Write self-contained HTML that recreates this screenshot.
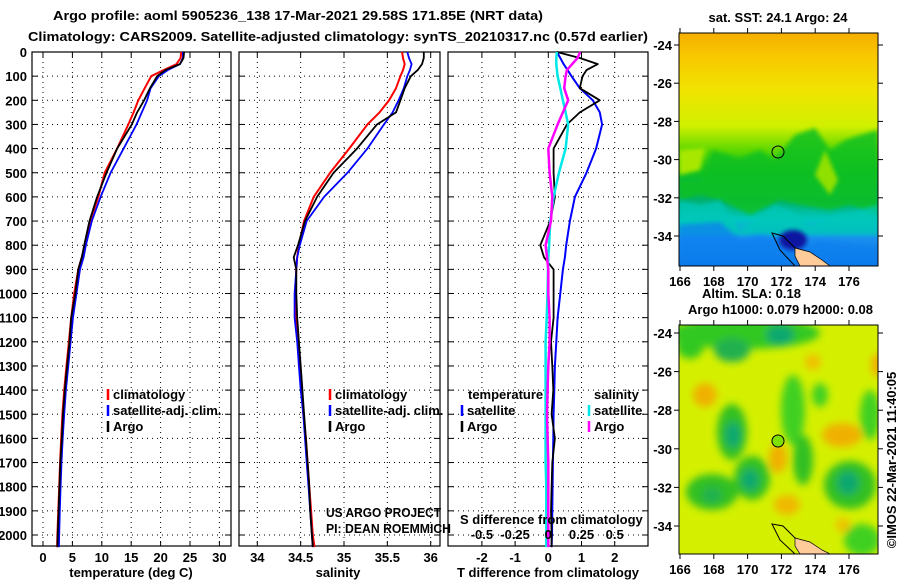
<!DOCTYPE html>
<html><head><meta charset="utf-8"><style>
html,body{margin:0;padding:0;background:#fff;}
svg{display:block;font-family:"Liberation Sans",sans-serif;}
.t{font-weight:bold;font-size:13px;fill:#000;}
</style></head><body>
<svg id="fig" width="900" height="580" viewBox="0 0 900 580">
<defs>
<filter id="blur" x="-50%" y="-50%" width="200%" height="200%"><feGaussianBlur stdDeviation="4"/></filter>
<filter id="blur2" x="-20%" y="-20%" width="140%" height="140%"><feGaussianBlur stdDeviation="2"/></filter>
<clipPath id="cm1"><rect x="679" y="33" width="199" height="233"/></clipPath>
<clipPath id="cm2"><rect x="679" y="325" width="199" height="229"/></clipPath>
<linearGradient id="sst" x1="0" y1="0" x2="0" y2="1">
<stop offset="0" stop-color="#f6ae00"/><stop offset="0.1" stop-color="#f8c800"/>
<stop offset="0.25" stop-color="#f0e400"/><stop offset="0.4" stop-color="#d0f000"/>
<stop offset="0.5" stop-color="#60d800"/><stop offset="0.6" stop-color="#10c020"/>
<stop offset="0.72" stop-color="#00b070"/><stop offset="0.8" stop-color="#00c8c0"/>
<stop offset="0.88" stop-color="#1a90f0"/><stop offset="1" stop-color="#0a70e0"/>
</linearGradient>
</defs>
<rect width="900" height="580" fill="#fff"/>
<text class="t" x="53" y="20" font-size="14" textLength="490" lengthAdjust="spacingAndGlyphs">Argo profile: aoml 5905236_138 17-Mar-2021 29.58S 171.85E (NRT data)</text>
<text class="t" x="28" y="41" font-size="14" textLength="620" lengthAdjust="spacingAndGlyphs">Climatology: CARS2009. Satellite-adjusted climatology: synTS_20210317.nc (0.57d earlier)</text>
<g id="panels"></g>

<!-- top map -->
<g>
<text class="t" x="778" y="22" text-anchor="middle">sat. SST: 24.1 Argo: 24</text>
<g clip-path="url(#cm1)">
<rect x="679" y="33" width="199" height="233" fill="url(#sst)"/>
<path d="M679,180 L700,182 L712,150 L740,158 L760,150 L775,160 L795,135 L815,128 L830,150 L845,140 L860,135 L878,130 L878,215 L850,205 L830,210 L800,205 L780,200 L750,215 L720,200 L700,195 L679,200Z" fill="#10c020" filter="url(#blur2)" opacity="0.85"/>
<path d="M679,175 L700,170 L705,148 L679,150Z" fill="#a8e800" filter="url(#blur2)"/>
<path d="M815,175 L825,150 L838,180 L830,195Z" fill="#90e000" filter="url(#blur2)"/>
<path d="M679,200 L700,205 L720,200 L740,230 L760,215 L775,205 L790,210 L810,225 L840,215 L878,205 L878,235 L679,235Z" fill="#00c8b8" filter="url(#blur2)" opacity="0.8"/>
<path d="M679,225 L720,222 L740,240 L760,235 L780,240 L800,250 L820,240 L878,248 L878,266 L679,266Z" fill="#1080f0" filter="url(#blur2)" opacity="0.75"/>
<ellipse cx="793" cy="240" rx="14" ry="10" fill="#0818a0" filter="url(#blur2)"/>
<path d="M772,233 L783,236 L795,248 L815,256 L826,266 L795,266 L780,250Z" fill="none" stroke="#000" stroke-width="1"/>
<path d="M795,248 L810,252 L822,260 L830,266 L800,266 L795,256Z" fill="#ffcc99" stroke="#000" stroke-width="0.7"/>
</g>
<rect x="679" y="33" width="199" height="233" fill="none" stroke="#000" stroke-width="1"/>
<circle cx="778" cy="152" r="6" fill="none" stroke="#000" stroke-width="1"/>
<g id="m1ticks"></g>
</g>

<!-- bottom map -->
<g>
<text class="t" x="702" y="298">Altim. SLA: 0.18</text>
<text class="t" x="688" y="314">Argo h1000: 0.079 h2000: 0.08</text>
<g clip-path="url(#cm2)">
<rect x="679" y="325" width="199" height="229" fill="#d4f000"/>
<g filter="url(#blur)">
<ellipse cx="745" cy="333" rx="75" ry="16" fill="#30c820"/>
<ellipse cx="690" cy="345" rx="14" ry="14" fill="#30c820"/>
<ellipse cx="732" cy="350" rx="18" ry="12" fill="#20b050"/>
<ellipse cx="780" cy="335" rx="14" ry="10" fill="#10a870"/>
<ellipse cx="732" cy="432" rx="15" ry="28" fill="#30c020"/>
<ellipse cx="733" cy="435" rx="8" ry="13" fill="#10a870"/>
<ellipse cx="752" cy="478" rx="18" ry="22" fill="#30c020"/>
<ellipse cx="750" cy="480" rx="9" ry="11" fill="#10a870"/>
<ellipse cx="712" cy="492" rx="26" ry="18" fill="#30c020"/>
<ellipse cx="712" cy="495" rx="10" ry="8" fill="#20b050"/>
<ellipse cx="793" cy="410" rx="12" ry="35" fill="#40d020"/>
<ellipse cx="803" cy="460" rx="10" ry="25" fill="#30c020"/>
<ellipse cx="850" cy="485" rx="26" ry="24" fill="#30c020"/>
<ellipse cx="848" cy="483" rx="11" ry="12" fill="#10a870"/>
<ellipse cx="870" cy="415" rx="10" ry="25" fill="#40d020"/>
<ellipse cx="862" cy="540" rx="18" ry="16" fill="#40d020"/>
<ellipse cx="820" cy="395" rx="8" ry="12" fill="#40d020"/>
<ellipse cx="705" cy="395" rx="12" ry="12" fill="#f0b000"/>
<ellipse cx="842" cy="435" rx="20" ry="12" fill="#f0b000"/>
<ellipse cx="778" cy="458" rx="9" ry="15" fill="#f0b000"/>
<ellipse cx="787" cy="505" rx="13" ry="10" fill="#f0b800"/>
<ellipse cx="813" cy="362" rx="8" ry="8" fill="#f0c000"/>
<ellipse cx="878" cy="365" rx="7" ry="12" fill="#f0b000"/>
<ellipse cx="843" cy="525" rx="7" ry="7" fill="#f0c000"/>
</g>
<path d="M772,524 L783,526 L795,538 L815,546 L826,554 L795,554 L780,540Z" fill="none" stroke="#000" stroke-width="1"/>
<path d="M795,538 L810,542 L822,550 L830,554 L800,554 L795,546Z" fill="#ffcc99" stroke="#000" stroke-width="0.7"/>
</g>
<rect x="679" y="325" width="199" height="229" fill="none" stroke="#000" stroke-width="1"/>
<circle cx="778" cy="441" r="6" fill="#80e000" stroke="#000" stroke-width="1"/>
<g id="m2ticks"></g>
</g>
<text class="t" transform="translate(896,460) rotate(-90)" text-anchor="middle" font-weight="normal">©IMOS 22-Mar-2021 11:40:05</text>
</svg>
<script>
// depth levels (dbar)
const depth = [0,25,50,75,100,150,200,250,300,400,500,600,700,800,850,900,1000,1100,1200,1300,1400,1500,1600,1700,1800,1900,2000,2050];
// temperature (deg C)
const tempClim = [23.5,23.4,22.7,20.5,18.4,17.3,16.2,15.4,14.5,12.6,10.5,9.4,8.0,7.2,6.6,6.0,5.3,4.8,4.4,4.0,3.6,3.3,3.1,2.9,2.75,2.6,2.45,2.4];
const tempSat = [23.8,23.8,23.3,21.2,19.7,18.3,17.7,16.8,15.9,13.7,11.5,9.8,8.3,7.3,6.9,6.3,5.7,5.1,4.7,4.3,3.9,3.6,3.35,3.15,3.0,2.85,2.75,2.7];
const tempArgo = [24.0,23.9,23.3,20.8,19.4,18.2,17.2,16.0,15.1,12.6,10.8,9.2,7.9,7.0,6.6,6.0,5.5,4.8,4.5,4.1,3.7,3.4,3.2,2.95,2.8,2.65,2.5,2.45];
// salinity
const salClim = [35.67,35.68,35.70,35.68,35.65,35.60,35.52,35.41,35.27,35.06,34.84,34.65,34.54,34.48,34.46,34.45,34.44,34.45,34.47,34.49,34.51,34.53,34.56,34.58,34.60,34.62,34.64,34.66];
const salSat = [35.73,35.75,35.78,35.76,35.73,35.69,35.63,35.56,35.46,35.27,35.04,34.77,34.57,34.49,34.46,34.45,34.43,34.43,34.46,34.48,34.50,34.53,34.55,34.57,34.59,34.61,34.63,34.64];
const salArgo = [35.92,35.92,35.90,35.85,35.77,35.70,35.65,35.60,35.38,35.15,34.88,34.69,34.55,34.47,34.42,34.45,34.45,34.46,34.48,34.50,34.52,34.54,34.56,34.58,34.60,34.61,34.63,34.64];
// differences from climatology
const tdiffSat = [0.26,0.36,0.46,0.58,0.70,0.95,1.34,1.55,1.62,1.44,1.15,0.80,0.65,0.54,0.5,0.44,0.36,0.28,0.24,0.2,0.18,0.16,0.15,0.14,0.13,0.12,0.11,0.1];
const tdiffArgo = [0.26,0.95,1.49,1.15,1.03,0.95,1.55,0.95,0.56,0.16,0.16,0.2,0.06,-0.24,-0.13,0.16,0.16,0.16,0.08,0.12,0.15,0.1,0.2,0.12,0.1,0.08,0.1,0.1];
const sdiffSat = [0.065,0.06,0.06,0.065,0.07,0.09,0.11,0.13,0.15,0.13,0.08,0.04,0.015,0.006,0.0,-0.002,-0.006,-0.012,-0.02,-0.02,-0.02,-0.02,-0.02,-0.02,-0.015,-0.015,-0.015,-0.015];
const sdiffArgo = [0.24,0.22,0.18,0.14,0.13,0.12,0.15,0.11,0.07,0.0,0.01,0.03,0.02,-0.02,-0.01,0.0,0.0,0.01,0.01,0.0,-0.005,-0.01,-0.005,0.0,0.0,0.0,0.0,0.0];
// tick labels
const depthTicks = [0,100,200,300,400,500,600,700,800,900,1000,1100,1200,1300,1400,1500,1600,1700,1800,1900,2000];
const tempTicks = [0,5,10,15,20,25,30];
const salTicks = [34,34.5,35,35.5,36];
const tdTicks = [-2,-1,0,1,2];
const sdTicks = [-0.5,-0.25,0,0.25,0.5];
const latTicks = [-24,-26,-28,-30,-32,-34];
const lonTicks = [166,168,170,172,174,176];

const NS='http://www.w3.org/2000/svg';
const P=document.getElementById('panels');
function mk(tag,attrs,parent){const e=document.createElementNS(NS,tag);for(const k in attrs)e.setAttribute(k,attrs[k]);(parent||P).appendChild(e);return e;}
const yD = d => 52 + d*0.2415;
const TOP=52, BOT=546;
const xT = v => 43 + v*5.88;
const xS = v => 257.3 + (v-34)*86.7;
const xTD = v => 548.3 + v*33.2;
const xSD = v => 548.3 + v*132.8;

function panel(name,x0,x1,xf,ticks,fmt){
  const g=mk('g',{});
  
  
  depthTicks.forEach(d=>{const y=yD(d);
    mk('line',{x1:x0,x2:x1,y1:y,y2:y,stroke:'#000','stroke-width':1,'stroke-dasharray':'1,4'},g);
    mk('line',{x1:x0,x2:x0+6,y1:y,y2:y,stroke:'#000'},g);
    mk('line',{x1:x1-6,x2:x1,y1:y,y2:y,stroke:'#000'},g);});
  ticks.forEach(v=>{const x=xf(v);
    mk('line',{x1:x,x2:x,y1:TOP,y2:BOT,stroke:'#000','stroke-width':1,'stroke-dasharray':'1,4'},g);
    mk('line',{x1:x,x2:x,y1:TOP,y2:TOP+5,stroke:'#000'},g);
    mk('line',{x1:x,x2:x,y1:BOT-5,y2:BOT,stroke:'#000'},g);
    const t=mk('text',{x:x,y:562,'text-anchor':'middle',class:'t'},g);t.textContent=fmt(v);
    
    });
  const r=mk('rect',{x:x0,y:TOP,width:x1-x0,height:BOT-TOP,fill:'none',stroke:'#000','stroke-width':1.2},g);
  
  
  return g;
}
function line(g,xs,xf,col,w,name){
  const pts=xs.map((v,i)=>xf(v).toFixed(1)+','+yD(depth[i]).toFixed(1)).join(' ');
  const p=mk('polyline',{points:pts,fill:'none',stroke:col,'stroke-width':w,'stroke-linejoin':'round'},g);
  
  
}
function txt(g,x,y,s,name,extra){const t=mk('text',Object.assign({x:x,y:y,class:'t'},extra||{}),g);t.textContent=s;
  
  return t;}
function leg(g,x,y,col,s,name){mk('line',{x1:x,x2:x,y1:y-10,y2:y+1,stroke:col,'stroke-width':2.5},g);txt(g,x+5,y,s,name);}

// depth axis labels
depthTicks.forEach(d=>{txt(P,27,yD(d)+5,String(d),'depth-tick-label',{'text-anchor':'end'});});

const g1=panel('temperature',32,231,xT,tempTicks,String);
line(g1,tempClim,xT,'#f00',2,'temperature-climatology-line');
line(g1,tempSat,xT,'#00f',1.8,'temperature-satellite-line');
line(g1,tempArgo,xT,'#000',1.8,'temperature-argo-line');
txt(g1,131,577,'temperature (deg C)','temperature-axis-title',{'text-anchor':'middle'});
leg(g1,108,399,'#f00','climatology','legend-climatology');
leg(g1,108,415,'#00f','satellite-adj. clim.','legend-satellite-adj');
leg(g1,108,431,'#000','Argo','legend-argo');

const g2=panel('salinity',239,440,xS,salTicks,String);
line(g2,salClim,xS,'#f00',2,'salinity-climatology-line');
line(g2,salSat,xS,'#00f',1.8,'salinity-satellite-line');
line(g2,salArgo,xS,'#000',1.8,'salinity-argo-line');
txt(g2,338,577,'salinity','salinity-axis-title',{'text-anchor':'middle'});
leg(g2,330,399,'#f00','climatology','legend-climatology-2');
leg(g2,330,415,'#00f','satellite-adj. clim.','legend-satellite-adj-2');
leg(g2,330,431,'#000','Argo','legend-argo-2');
txt(g2,326,517,'US ARGO PROJECT','project-credit',{'font-weight':'normal','font-size':'12','textLength':'115','lengthAdjust':'spacingAndGlyphs'});
txt(g2,326,533,'PI: DEAN ROEMMICH','pi-credit',{'font-weight':'normal','font-size':'12','textLength':'125','lengthAdjust':'spacingAndGlyphs'});

const g3=panel('difference',448,648,xTD,tdTicks,String);
line(g3,tdiffSat,xTD,'#00f',2,'tdiff-satellite-line');
line(g3,tdiffArgo,xTD,'#000',1.8,'tdiff-argo-line');
line(g3,sdiffSat,xSD,'#00e8e8',2.5,'sdiff-satellite-line');
line(g3,sdiffArgo,xSD,'#f0f',2.5,'sdiff-argo-line');
txt(g3,548,577,'T difference from climatology','tdiff-axis-title',{'text-anchor':'middle'});
txt(g3,468,399,'temperature','legend-temperature-header');
txt(g3,594,399,'salinity','legend-salinity-header');
leg(g3,462,415,'#00f','satellite','legend-t-satellite');
leg(g3,462,431,'#000','Argo','legend-t-argo');
leg(g3,589,415,'#00e8e8','satellite','legend-s-satellite');
leg(g3,589,431,'#f0f','Argo','legend-s-argo');
txt(g3,460,524,'S difference from climatology','sdiff-axis-title');
sdTicks.forEach(v=>txt(g3,xSD(v),539,String(v),'sdiff-tick-label',{'text-anchor':'middle'}));

// map ticks
function mapTicks(id,top,bot,lat0y,latStep){
  const g=document.getElementById(id);
  latTicks.forEach(l=>{const y=lat0y+(-24-l)*latStep;
    mk('line',{x1:674,x2:679,y1:y,y2:y,stroke:'#000'},g);
    mk('line',{x1:878,x2:883,y1:y,y2:y,stroke:'#000'},g);
    txt(g,672,y+5,String(l),'map-lat-label',{'text-anchor':'end'});});
  lonTicks.forEach(l=>{const x=680+(l-166)*16.9;
    mk('line',{x1:x,x2:x,y1:top-5,y2:top,stroke:'#000'},g);
    mk('line',{x1:x,x2:x,y1:bot,y2:bot+5,stroke:'#000'},g);
    txt(g,x,bot+20,String(l),'map-lon-label',{'text-anchor':'middle'});});
}
mapTicks('m1ticks',33,266,45,19.1);
mapTicks('m2ticks',325,554,333,19.3);
</script>
</body></html>
